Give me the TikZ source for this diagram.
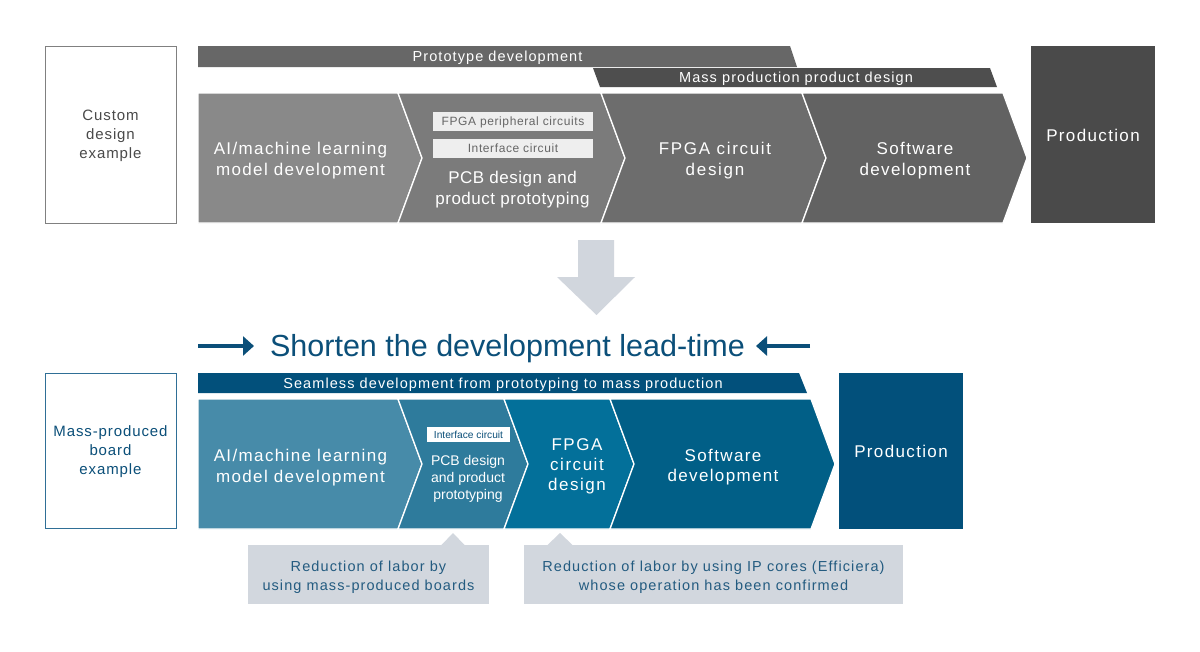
\documentclass[tikz,border=0pt]{standalone}
\usepackage{fontspec}
\setmainfont{Liberation Sans}
\usetikzlibrary{arrows.meta}
\newcommand{\myfs}[3]{\fontsize{#1}{#2}\selectfont\addfontfeature{LetterSpace=#3}}
\definecolor{custbord}{HTML}{808080}
\definecolor{custtext}{HTML}{4A4A4A}
\definecolor{protobar}{HTML}{676767}
\definecolor{massbar}{HTML}{4E4E4E}
\definecolor{gA}{HTML}{898989}
\definecolor{gB}{HTML}{7B7B7B}
\definecolor{gC}{HTML}{6D6D6D}
\definecolor{gD}{HTML}{626262}
\definecolor{gprod}{HTML}{4A4A4A}
\definecolor{subfill}{HTML}{EEEEEE}
\definecolor{subtext}{HTML}{666666}
\definecolor{bigarrow}{HTML}{D1D6DD}
\definecolor{titleblue}{HTML}{0B4F79}
\definecolor{bluebord}{HTML}{2F6F96}
\definecolor{seambar}{HTML}{02507B}
\definecolor{bA}{HTML}{478BA9}
\definecolor{bB}{HTML}{2E7B9C}
\definecolor{bC}{HTML}{03709A}
\definecolor{bD}{HTML}{015F87}
\definecolor{bprod}{HTML}{02507B}
\definecolor{callfill}{HTML}{D2D7DE}
\definecolor{calltext}{HTML}{235B80}
\tikzset{
  chev/.style={draw=white, line width=1.3pt, line join=miter},
  maintxt/.style={inner sep=0pt, align=center, text=white, font=\myfs{17}{21}{8}},
  bartxt/.style={inner sep=0pt, anchor=base, text=white, font=\myfs{14.5}{17}{7.5}},
  subbox/.style={fill=subfill, inner sep=0pt, minimum width=160pt, minimum height=19pt, text=subtext, font=\myfs{12}{14}{5}, text height=8.6pt, text depth=0pt},
  prodbox/.style={inner sep=0pt, minimum width=124pt, text=white, font=\myfs{17}{21}{8}, text height=12.2pt, text depth=0pt},
  sidebox/.style={draw, line width=1pt, fill=white, inner sep=0pt, minimum width=131pt, align=center, font=\myfs{15}{19}{6}},
  callbox/.style={fill=callfill, inner sep=0pt, align=center, text=calltext, font=\myfs{14.5}{19}{7.5}},
  titlearrow/.style={draw=titleblue, line width=4pt, -{Triangle[length=11pt,width=19pt]}},
}
\begin{document}
\begin{tikzpicture}[x=1pt,y=-1pt]
\useasboundingbox[fill=white] (0,0) rectangle (1200,651);

% ===== top: custom design =====
\node[sidebox, draw=custbord, text=custtext, minimum height=177pt] (cust) at (110.5,134.5) {};
\node[inner sep=0pt, align=center, text=custtext, font=\myfs{15}{19}{6}] (custt) at (110.5,135.5) {Custom\\design\\example};

\fill[protobar] (198,46) -- (790,46) -- (797,67) -- (198,67) -- cycle;
\fill[massbar] (593,68) -- (990,68) -- (997,87) -- (600,87) -- cycle;
\node[bartxt] (proto) at (497.5,61.7) {Prototype development};
\node[bartxt] (mass) at (796,82.7) {Mass production product design};

\fill[gA,chev] (198,93) -- (398,93) -- (422,158) -- (398,223) -- (198,223) -- cycle;
\fill[gB,chev] (398,93) -- (601,93) -- (625,158) -- (601,223) -- (398,223) -- (422,158) -- cycle;
\fill[gC,chev] (601,93) -- (802,93) -- (826,158) -- (802,223) -- (601,223) -- (625,158) -- cycle;
\fill[gD,chev] (802,93) -- (1003,93) -- (1027,158) -- (1003,223) -- (802,223) -- (826,158) -- cycle;

\node[maintxt] (tai) at (300.5,161) {AI/machine learning\\model development};
\node[subbox] (fpp) at (513,121.5) {FPGA peripheral circuits};
\node[subbox] (ifc) at (513,148.5) {Interface circuit};
\node[maintxt, font=\myfs{17}{21}{3}] (tpcb) at (512.5,190) {PCB design and\\product prototyping};
\node[maintxt, font=\myfs{17}{21}{10}] (tfpga) at (715,161) {FPGA circuit\\design};
\node[maintxt] (tsw) at (915,161) {Software\\development};
\node[prodbox, fill=gprod, minimum height=177pt, text height=14.2pt] (tprod) at (1093,134.5) {Production};

% ===== big arrow =====
\fill[bigarrow] (578,240) -- (614,240) -- (614,277) -- (635,277) -- (596.5,315) -- (557,277) -- (578,277) -- cycle;

% ===== title =====
\node[inner sep=0pt, anchor=base, text=titleblue, font=\myfs{30.5}{34}{0}] (title) at (507.5,356) {Shorten the development lead-time};
\coordinate (la0) at (198,346);
\coordinate (la1) at (254,346);
\coordinate (ra0) at (810,346);
\coordinate (ra1) at (756,346);
\draw[titlearrow] (la0) -- (la1);
\draw[titlearrow] (ra0) -- (ra1);

% ===== bottom: mass-produced board =====
\node[sidebox, draw=bluebord, minimum height=155pt] (mpb) at (110.5,450.5) {};
\node[inner sep=0pt, align=center, text=titleblue, font=\myfs{15}{19}{6}] (mpbt) at (110.5,451.5) {Mass-produced\\board\\example};

\fill[seambar] (198,373) -- (799,373) -- (807,393) -- (198,393) -- cycle;
\node[bartxt] (seam) at (503,388.2) {Seamless development from prototyping to mass production};

\fill[bA,chev] (198,399) -- (398,399) -- (422,464) -- (398,529) -- (198,529) -- cycle;
\fill[bB,chev] (398,399) -- (504,399) -- (528,464) -- (504,529) -- (398,529) -- (422,464) -- cycle;
\fill[bC,chev] (504,399) -- (610,399) -- (634,464) -- (610,529) -- (504,529) -- (528,464) -- cycle;
\fill[bD,chev] (610,399) -- (811,399) -- (835,464) -- (811,529) -- (610,529) -- (634,464) -- cycle;

\node[maintxt] (bai) at (300.5,467.5) {AI/machine learning\\model development};
\node[fill=white, inner sep=0pt, minimum width=83pt, minimum height=15pt, text=titleblue, font=\myfs{10.2}{12}{0}, text height=7.3pt, text depth=0pt] (bifc) at (468.5,434.5) {Interface circuit};
\node[maintxt, font=\myfs{14}{17}{0}] (bpcb) at (468,478.7) {PCB design\\and product\\prototyping};
\node[maintxt, font=\myfs{17}{20}{9}] (bfpga) at (577,466.5) {FPGA\\circuit\\design};
\node[maintxt, font=\myfs{17}{20}{8}] (bsw) at (723,467) {Software\\development};
\node[prodbox, fill=bprod, minimum height=156pt] (bprodn) at (901,451) {Production};

% ===== callouts =====
\node[callbox, minimum width=241pt, minimum height=59pt] (call1) at (368.5,574.5) {};
\node[inner sep=0pt, align=center, text=calltext, font=\myfs{14.5}{19}{7.5}] (call1t) at (368.5,577.5) {Reduction of labor by\\using mass-produced boards};
\fill[callfill] (441,545.5) -- (453,533) -- (465,545.5) -- cycle;
\node[callbox, minimum width=379pt, minimum height=59pt] (call2) at (713.5,574.5) {};
\node[inner sep=0pt, align=center, text=calltext, font=\myfs{14.5}{19}{7.5}] (call2t) at (713.5,577.5) {Reduction of labor by using IP cores (Efficiera)\\whose operation has been confirmed};
\fill[callfill] (547,545.5) -- (560,533) -- (573,545.5) -- cycle;
\end{tikzpicture}
\end{document}
